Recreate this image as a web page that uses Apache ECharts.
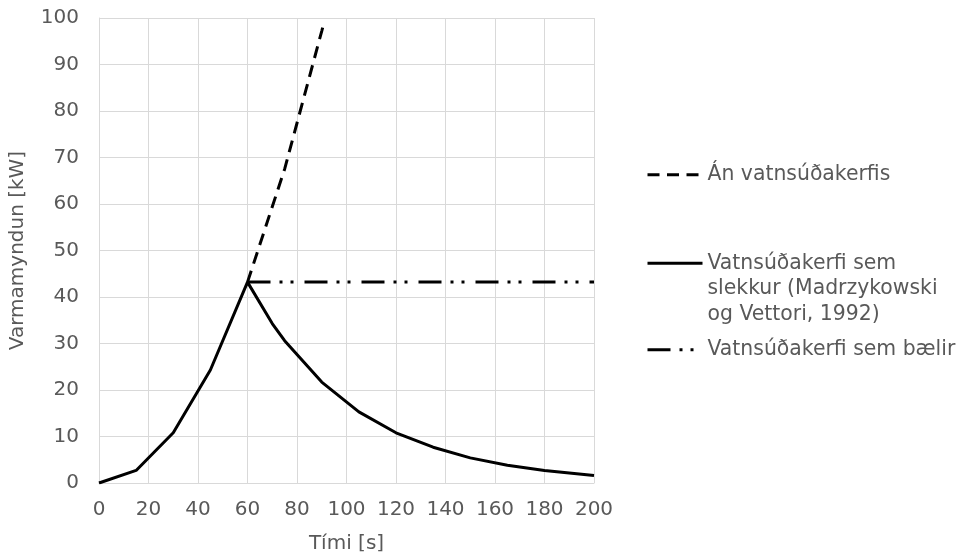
<!DOCTYPE html>
<html>
<head>
<meta charset="utf-8">
<script src="https://cdn.jsdelivr.net/npm/echarts@6/dist/echarts.min.js"></script>
<style>
  html, body { margin: 0; padding: 0; background: #fff; }
  #chart { width: 962px; height: 559px; }
</style>
</head>
<body>
<div id="chart"></div>
<script>
const seriesNames = [
  "Án vatnsúðakerfis",
  "Vatnsúðakerfi sem slekkur (Madrzykowski og Vettori, 1992)",
  "Vatnsúðakerfi sem bælir",
];
// two blank lines on top so the icon sits on the first text line
const legendLabels = [
  "Án vatnsúðakerfis",
  "\n\nVatnsúðakerfi sem\nslekkur (Madrzykowski\nog Vettori, 1992)",
  "Vatnsúðakerfi sem bælir",
];

// time [s] and heat release [kW]
const noSprinklerT = [60, 75, 90, 91];
const noSprinklerQ = [43.2, 67.5, 97.2, 99.2];
const extinguishT = [0, 15, 30, 45, 60, 70, 75, 90, 105, 120, 135, 150, 165, 180, 200];
const extinguishQ = [0, 2.7, 10.8, 24.3, 43.2, 34.3, 30.6, 21.7, 15.3, 10.8, 7.7, 5.4, 3.8, 2.7, 1.6];
const controlT = [60, 200];
const controlQ = [43.2, 43.2];

const pairs = (xs, ys) => xs.map((x, i) => [x, ys[i]]);

const FONT = "DejaVu Sans";
const GREY = "#595959";
const GRID = "#d9d9d9";

const dashTypes = [[12, 7.5], "solid", [23, 9, 3, 8, 3, 11]];

const legendTops = [162, 199, 337];

const renderChart = (ref) => {
  const chart = echarts.init(ref, null, { renderer: "canvas" });
  const lineSeries = [
    pairs(noSprinklerT, noSprinklerQ),
    pairs(extinguishT, extinguishQ),
    pairs(controlT, controlQ),
  ].map((data, i) => ({
    name: seriesNames[i],
    type: "line",
    data: data,
    symbol: "none",
    z: i === 1 ? 3 : 2,
    lineStyle: { color: "#000", width: 3, type: dashTypes[i], cap: "butt" },
    itemStyle: { color: "#000" },
  }));

  const legends = seriesNames.map((name, i) => ({
    orient: "vertical",
    left: 646,
    top: legendTops[i],
    padding: 0,
    itemWidth: 55,
    itemHeight: 14,
    selectedMode: false,
    itemStyle: { opacity: 0 },
    lineStyle: { width: 3, type: dashTypes[i], color: "#000", cap: "butt" },
    formatter: () => legendLabels[i],
    textStyle: {
      fontFamily: FONT,
      fontSize: 20.4,
      color: GREY,
      lineHeight: 25.7,
    },
    data: [name],
  }));

  const option = {
    animation: false,
    backgroundColor: "#fff",
    grid: { left: 98, right: 368, top: 18, bottom: 74, containLabel: false },
    legend: legends,
    xAxis: {
      type: "value",
      min: 0,
      max: 200,
      interval: 20,
      name: "Tími [s]",
      nameLocation: "middle",
      nameGap: 51,
      nameTextStyle: { fontFamily: FONT, fontSize: 20, color: GREY },
      axisLine: { show: true, lineStyle: { color: GRID, width: 1 } },
      axisTick: { show: false },
      axisLabel: { fontFamily: FONT, fontSize: 20, color: GREY, margin: 17 },
      splitLine: { show: true, lineStyle: { color: GRID, width: 1 } },
    },
    yAxis: {
      type: "value",
      min: 0,
      max: 100,
      interval: 10,
      name: "Varmamyndun [kW]",
      nameLocation: "middle",
      nameGap: 71,
      nameTextStyle: { fontFamily: FONT, fontSize: 20, color: GREY },
      axisLine: { show: true, lineStyle: { color: GRID, width: 1 } },
      axisTick: { show: false },
      axisLabel: { fontFamily: FONT, fontSize: 20, color: GREY, margin: 20 },
      splitLine: { show: true, lineStyle: { color: GRID, width: 1 } },
    },
    series: lineSeries,
  };
  chart.setOption(option, true);
  window.onresize = function () {
    chart.resize();
  };
};

renderChart(document.getElementById("chart"));
</script>
</body>
</html>
